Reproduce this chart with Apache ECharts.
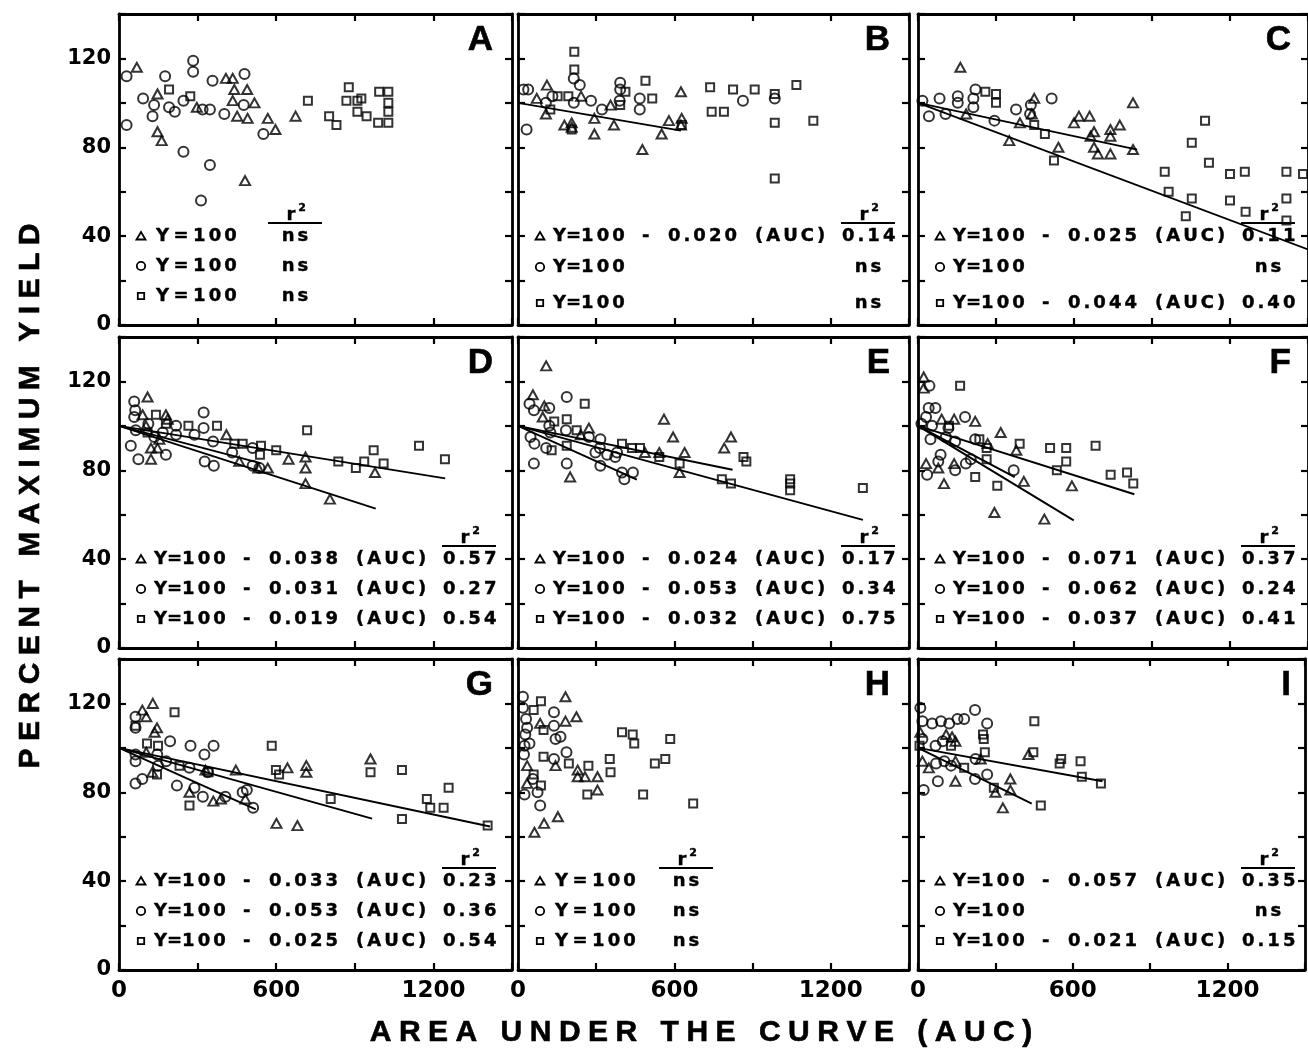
<!DOCTYPE html>
<html>
<head>
<meta charset="utf-8">
<title>Percent maximum yield vs. area under the curve</title>
<script src="https://cdn.jsdelivr.net/npm/echarts@6/dist/echarts.min.js"></script>
<style>
  html, body { margin: 0; padding: 0; background: #fff; }
  #chart { width: 1308px; height: 1052px; }
</style>
</head>
<body>
<div id="chart"></div>
<script>
// ---------- tick labels ----------
const xTickLabels = [0, 600, 1200];
const yTickLabels = [0, 40, 80, 120];

// ---------- observations: [AUC, percent maximum yield] ----------
// A
const triA = [[68,116],[147,104],[147,87],[163,83],[297,98],[408,111],[434,111],[440,106],[434,101],[451,94],[489,106],[491,93],[517,100],[481,65],[568,93],[597,88],[674,94]];
const cirA = [[29,112],[29,90],[92,102],[128,94],[134,99],[176,112],[191,98],[213,96],[246,78],[246,101],[283,119],[283,114],[313,56],[319,97],[347,97],[347,72],[357,110],[402,95],[479,113],[476,99],[551,86]];
const sqA  = [[191,106],[272,103],[721,101],[802,94],[830,90],[877,107],[868,101],[910,101],[925,102],[910,96],[945,94],[989,91],[993,105],[1028,105],[1028,100],[1028,96],[1028,91]];
// B
const triB = [[111,108],[72,102],[107,95],[178,90],[206,91],[206,89],[242,103],[293,93],[293,86],[368,90],[355,99],[477,79],[551,86],[579,92],[625,105],[628,93],[625,90]];
const cirB = [[21,106],[39,106],[33,88],[107,100],[132,103],[214,111],[237,108],[214,100],[280,101],[322,97],[392,109],[392,106],[390,101],[467,102],[467,97],[863,101],[985,102]];
const sqB  = [[124,97],[152,103],[193,103],[216,123],[216,115],[206,88],[392,99],[412,105],[489,110],[515,102],[628,90],[737,107],[743,96],[790,96],[825,106],[908,106],[985,104],[985,91],[985,66],[1068,108],[1133,92]];
// C
const triC = [[163,116],[185,95],[351,83],[392,91],[447,102],[438,95],[540,80],[600,91],[619,94],[660,94],[677,87],[664,85],[677,80],[692,77],[740,88],[740,85],[740,77],[776,90],[827,100],[827,79]];
const cirC = [[17,101],[42,94],[83,102],[106,95],[153,103],[153,100],[213,102],[213,98],[221,106],[294,92],[377,97],[434,99],[431,95],[514,102]];
const sqC  = [[259,105],[300,104],[300,100],[447,90],[488,86],[523,74],[949,69],[964,60],[1030,49],[1053,82],[1053,57],[1104,92],[1119,73],[1200,68],[1200,56],[1257,69],[1260,51],[1417,69],[1417,57],[1417,47],[1481,68]];
// D
const triD = [[109,113],[90,105],[103,100],[122,90],[147,90],[122,85],[179,105],[186,103],[154,94],[410,96],[459,84],[532,81],[568,81],[647,85],[712,86],[712,81],[712,74],[805,67],[977,79]];
const cirD = [[58,111],[62,107],[58,104],[64,98],[45,91],[74,85],[112,101],[135,95],[167,97],[179,87],[218,100],[218,96],[288,96],[323,106],[323,99],[359,93],[327,84],[362,82],[432,88],[510,90],[510,82],[536,81]];
const sqD  = [[141,105],[109,97],[179,101],[265,100],[374,100],[440,92],[472,92],[542,91],[538,87],[600,89],[718,98],[837,84],[904,81],[936,84],[972,89],[1010,83],[1145,91],[1244,85]];
// E
const triE = [[108,127],[57,114],[101,109],[95,104],[272,99],[241,96],[200,77],[560,103],[595,95],[487,88],[542,88],[639,88],[620,79],[791,90],[817,95]];
const cirE = [[44,110],[61,107],[120,108],[120,100],[48,95],[63,92],[61,83],[108,90],[124,97],[187,113],[184,98],[187,83],[272,95],[316,94],[314,90],[316,82],[297,88],[380,88],[373,86],[399,79],[408,76],[441,79],[342,87]];
const sqE  = [[139,102],[187,103],[187,91],[129,89],[225,98],[256,110],[399,92],[437,90],[468,90],[542,86],[620,83],[782,76],[817,74],[865,86],[876,84],[1044,76],[1044,74],[1044,71],[1323,72]];
// F
const triF = [[22,122],[22,117],[91,103],[139,103],[220,102],[318,97],[31,83],[78,81],[100,74],[139,83],[268,92],[294,61],[378,89],[407,75],[486,58],[592,73]];
const cirF = [[44,118],[41,108],[67,108],[31,104],[13,101],[54,100],[48,94],[117,99],[107,95],[143,93],[181,104],[220,94],[203,85],[184,83],[87,87],[78,84],[35,78],[143,80],[368,80]];
const sqF  = [[162,118],[119,100],[236,94],[264,90],[264,85],[220,77],[305,73],[391,92],[508,90],[570,90],[534,80],[570,84],[683,91],[741,78],[804,79],[828,74]];
// G
const triG = [[129,120],[89,117],[104,114],[145,109],[136,107],[104,98],[127,89],[269,80],[330,90],[360,76],[389,77],[446,90],[482,77],[601,66],[681,65],[643,91],[715,92],[715,89],[960,95]];
const cirG = [[63,114],[63,109],[63,97],[63,94],[63,84],[89,86],[146,97],[149,92],[180,94],[195,103],[221,83],[273,101],[269,91],[288,82],[320,78],[326,97],[339,89],[361,101],[406,78],[472,80],[488,81],[512,73]];
const sqG  = [[63,110],[107,102],[149,101],[145,88],[212,116],[231,92],[269,74],[342,89],[583,101],[599,90],[611,88],[808,77],[960,89],[1080,90],[1080,68],[1175,77],[1188,73],[1239,73],[1258,82],[1407,65]];
// H
const triH = [[182,123],[224,114],[182,112],[85,111],[144,92],[229,90],[229,87],[257,87],[305,87],[305,81],[35,92],[35,84],[153,69],[100,66],[63,62]];
const cirH = [[19,123],[19,118],[31,113],[35,109],[28,106],[44,102],[25,101],[23,97],[138,116],[138,110],[163,105],[144,104],[186,98],[138,95],[57,86],[75,80],[25,79],[85,74]];
const sqH  = [[88,121],[60,117],[98,108],[98,96],[195,93],[270,92],[266,79],[352,95],[355,89],[399,107],[440,106],[446,102],[480,79],[525,93],[565,95],[584,104],[672,75],[60,88],[88,83]];
// I
const triI = [[9,107],[17,94],[42,91],[109,106],[132,105],[145,103],[145,94],[145,85],[243,95],[300,80],[329,73],[358,86],[358,81],[428,97]];
const cirI = [[9,118],[17,112],[17,104],[22,81],[55,111],[68,101],[70,93],[77,85],[89,112],[121,111],[153,113],[179,113],[96,103],[102,94],[221,117],[268,111],[223,95],[221,86],[268,88],[128,92]];
const sqI  = [[6,101],[128,101],[179,91],[252,106],[255,104],[259,98],[294,82],[451,112],[447,98],[476,74],[549,93],[555,95],[630,94],[635,87],[709,84]];

// ---------- regressions: Y = 100 - slope (AUC); order triangle, circle, square ----------
const slopeA = [null, null, null];     const r2A = ['ns', 'ns', 'ns'];
const slopeB = [0.020, null, null];    const r2B = ['0.14', 'ns', 'ns'];
const slopeC = [0.025, null, 0.044];   const r2C = ['0.11', 'ns', '0.40'];
const slopeD = [0.038, 0.031, 0.019];  const r2D = ['0.57', '0.27', '0.54'];
const slopeE = [0.024, 0.053, 0.032];  const r2E = ['0.17', '0.34', '0.75'];
const slopeF = [0.071, 0.062, 0.037];  const r2F = ['0.37', '0.24', '0.41'];
const slopeG = [0.033, 0.053, 0.025];  const r2G = ['0.23', '0.36', '0.54'];
const slopeH = [null, null, null];     const r2H = ['ns', 'ns', 'ns'];
const slopeI = [0.057, null, 0.021];   const r2I = ['0.35', 'ns', '0.15'];

// AUC at which each fitted line stops
const lineEndA = [null, null, null];
const lineEndB = [625, null, null];
const lineEndC = [843, null, 1500];
const lineEndD = [980, 540, 1245];
const lineEndE = [823, 456, 1323];
const lineEndF = [599, 372, 832];
const lineEndG = [966, 522, 1416];
const lineEndH = [null, null, null];
const lineEndI = [441, null, 715];

const panels = [
  { name: 'A', tri: triA, cir: cirA, sq: sqA, slope: slopeA, r2: r2A, lineEnd: lineEndA },
  { name: 'B', tri: triB, cir: cirB, sq: sqB, slope: slopeB, r2: r2B, lineEnd: lineEndB },
  { name: 'C', tri: triC, cir: cirC, sq: sqC, slope: slopeC, r2: r2C, lineEnd: lineEndC },
  { name: 'D', tri: triD, cir: cirD, sq: sqD, slope: slopeD, r2: r2D, lineEnd: lineEndD },
  { name: 'E', tri: triE, cir: cirE, sq: sqE, slope: slopeE, r2: r2E, lineEnd: lineEndE },
  { name: 'F', tri: triF, cir: cirF, sq: sqF, slope: slopeF, r2: r2F, lineEnd: lineEndF },
  { name: 'G', tri: triG, cir: cirG, sq: sqG, slope: slopeG, r2: r2G, lineEnd: lineEndG },
  { name: 'H', tri: triH, cir: cirH, sq: sqH, slope: slopeH, r2: r2H, lineEnd: lineEndH },
  { name: 'I', tri: triI, cir: cirI, sq: sqI, slope: slopeI, r2: r2I, lineEnd: lineEndI }
];

// ---------- layout ----------
const colLeft = [119, 518, 918];
const colWidth = [393, 391, 392];
const rowTop = [14, 337, 659];
const rowHeight = 311;

const SANS = '"Liberation Sans", Arial, Helvetica, sans-serif';
const WIDE = '"DejaVu Sans", Verdana, sans-serif';
const EQ_FONT = 'bold 18px ' + WIDE;
const SUP_FONT = 'bold 11px ' + WIDE;
const LETTER_FONT = 'bold 35px ' + SANS;
const TITLE_FONT = 'bold 30px ' + SANS;

// legend rows (pixel offsets inside a panel)
const rowOffsets = { B: [222, 253, 289], C: [222, 253, 289] };
const defaultRowOffsets = [222, 252, 282];
const nsColumn = { A: 176, H: 168 };   // panels with only flat fits

// letter-spaced text, the way the figure is typeset
const spread = (s, gap) => Array.from(s).join(gap || '\u2006');

function text(x, y, s, font, align, weight) {
  return {
    type: 'text', x: x, y: y, silent: true, z: 100,
    style: { text: s, font: font, fill: '#000',
             stroke: '#000', lineWidth: weight || 0.4,
             textAlign: align || 'left', textVerticalAlign: 'middle',
             align: align || 'left', verticalAlign: 'middle' }
  };
}
const stroke = { fill: 'none', stroke: '#000', lineWidth: 1.8 };
function legendSymbol(kind, cx, cy) {
  if (kind === 0) {
    return { type: 'polygon', silent: true, z: 100,
      shape: { points: [[cx - 4.5, cy + 3.5], [cx + 4.5, cy + 3.5], [cx, cy - 4]] }, style: stroke };
  }
  if (kind === 1) {
    return { type: 'circle', silent: true, z: 100, shape: { cx: cx, cy: cy, r: 4.2 }, style: stroke };
  }
  return { type: 'rect', silent: true, z: 100, shape: { x: cx - 3.2, y: cy - 3.2, width: 6.4, height: 6.4 }, style: stroke };
}
function hline(x1, x2, y) {
  return { type: 'line', silent: true, z: 100,
    shape: { x1: x1, y1: y, x2: x2, y2: y }, style: { stroke: '#000', lineWidth: 2 } };
}
function rSquaredHeader(cx, y) {
  return [
    hline(cx - 27, cx + 27, y),
    text(cx - 4, y - 8, 'r', EQ_FONT, 'center'),
    text(cx + 7, y - 15, '2', SUP_FONT, 'center')
  ];
}

const fitLine = (slope, xEnd) => [[0, 100], [xEnd, +(100 - slope * xEnd).toFixed(3)]];

const option = {
  animation: false,
  backgroundColor: '#fff',
  grid: [], xAxis: [], yAxis: [], series: [],
  graphic: { elements: [] }
};
const g = option.graphic.elements;

const axisLine = { show: true, onZero: false, lineStyle: { color: '#000', width: 2.8 } };
const axisTick = { show: true, inside: true, length: 7, lineStyle: { color: '#000', width: 2.2 } };

panels.forEach((p, i) => {
  const r = Math.floor(i / 3), c = i % 3;
  const L = colLeft[c], T = rowTop[r], W = colWidth[c];

  option.grid.push({ left: L, top: T, width: W, height: rowHeight, show: false });

  const xBase = { type: 'value', gridIndex: i, min: 0, max: 1500, interval: 300,
                  axisLine: axisLine, axisTick: axisTick, splitLine: { show: false } };
  const yBase = { type: 'value', gridIndex: i, min: 0, max: 140, interval: 20,
                  axisLine: axisLine, axisTick: axisTick, splitLine: { show: false } };

  option.xAxis.push(Object.assign({}, xBase, {
    position: 'bottom',
    axisLabel: r === 2 ? {
      show: true, margin: 10, color: '#000', fontSize: 23, fontWeight: 'bold', fontFamily: WIDE,
      formatter: v => (xTickLabels.indexOf(v) >= 0 ? String(v) : '')
    } : { show: false }
  }));
  option.xAxis.push(Object.assign({}, xBase, { position: 'top', axisLabel: { show: false } }));
  option.yAxis.push(Object.assign({}, yBase, {
    position: 'left',
    axisLabel: c === 0 ? {
      show: true, margin: 8, color: '#000', fontSize: 21, fontWeight: 'bold', fontFamily: WIDE,
      formatter: v => (yTickLabels.indexOf(v) >= 0 ? String(v) : '')
    } : { show: false }
  }));
  option.yAxis.push(Object.assign({}, yBase, { position: 'right', axisLabel: { show: false } }));

  const xi = 2 * i, yi = 2 * i;
  const markerStyle = { color: 'rgba(0,0,0,0)', borderColor: '#000', borderWidth: 2 };
  const groups = [
    { data: p.tri, symbol: 'triangle', size: [10, 9] },
    { data: p.cir, symbol: 'circle', size: 10 },
    { data: p.sq,  symbol: 'rect', size: 8 }
  ];
  groups.forEach((grp, k) => {
    option.series.push({
      type: 'scatter', name: p.name + k, xAxisIndex: xi, yAxisIndex: yi,
      data: grp.data, symbol: grp.symbol, symbolSize: grp.size,
      itemStyle: markerStyle, silent: true, z: 3
    });
    if (p.slope[k] != null) {
      option.series.push({
        type: 'line', name: p.name + 'fit' + k, xAxisIndex: xi, yAxisIndex: yi,
        data: fitLine(p.slope[k], p.lineEnd[k]), symbol: 'none', showSymbol: false,
        lineStyle: { color: '#000', width: 1.9 }, silent: true, z: 2
      });
    }
  });

  // panel letter
  g.push(text(L + W - 19, T + 26, p.name, LETTER_FONT, 'right', 0.6));

  // regression legend
  const ys = rowOffsets[p.name] || defaultRowOffsets;
  const flatOnly = nsColumn[p.name] != null;
  if (flatOnly) {
    const cx = L + nsColumn[p.name];
    rSquaredHeader(cx, T + 209).forEach(e => g.push(e));
    for (let k = 0; k < 3; k++) {
      const y = T + ys[k];
      g.push(legendSymbol(k, L + 22, y));
      g.push(text(L + 37, y, 'Y\u2005=\u2005' + spread('100'), EQ_FONT, 'left'));
      g.push(text(cx, y, spread(p.r2[k]), EQ_FONT, 'center'));
    }
  } else {
    rSquaredHeader(L + 350, T + 209).forEach(e => g.push(e));
    for (let k = 0; k < 3; k++) {
      const y = T + ys[k];
      g.push(legendSymbol(k, L + 22, y));
      g.push(text(L + 35, y, 'Y=1\u20060\u20060', EQ_FONT, 'left'));
      if (p.slope[k] != null) {
        g.push(text(L + 124, y, '-', EQ_FONT, 'left'));
        g.push(text(L + 150, y, spread(p.slope[k].toFixed(3)), EQ_FONT, 'left'));
        g.push(text(L + 237, y, spread('(AUC)'), EQ_FONT, 'left'));
      }
      if (p.r2[k] === 'ns') {
        g.push(text(L + 350, y, spread('ns'), EQ_FONT, 'center'));
      } else {
        g.push(text(L + 324, y, spread(p.r2[k]), EQ_FONT, 'left'));
      }
    }
  }
});

// axis titles
g.push({
  type: 'text', x: 31, y: 496, rotation: Math.PI / 2, silent: true, z: 100,
  style: { text: spread('PERCENT MAXIMUM YIELD', '\u2005'), font: TITLE_FONT, fill: '#000',
           stroke: '#000', lineWidth: 0.6,
           textAlign: 'center', textVerticalAlign: 'middle', align: 'center', verticalAlign: 'middle' }
});
g.push(text(701, 1033, spread('AREA UNDER THE CURVE (AUC)', '\u2005'), TITLE_FONT, 'center', 0.6));

const chart = echarts.init(document.getElementById('chart'), null, { renderer: 'canvas', width: 1308, height: 1052 });
chart.setOption(option);
</script>
</body>
</html>
